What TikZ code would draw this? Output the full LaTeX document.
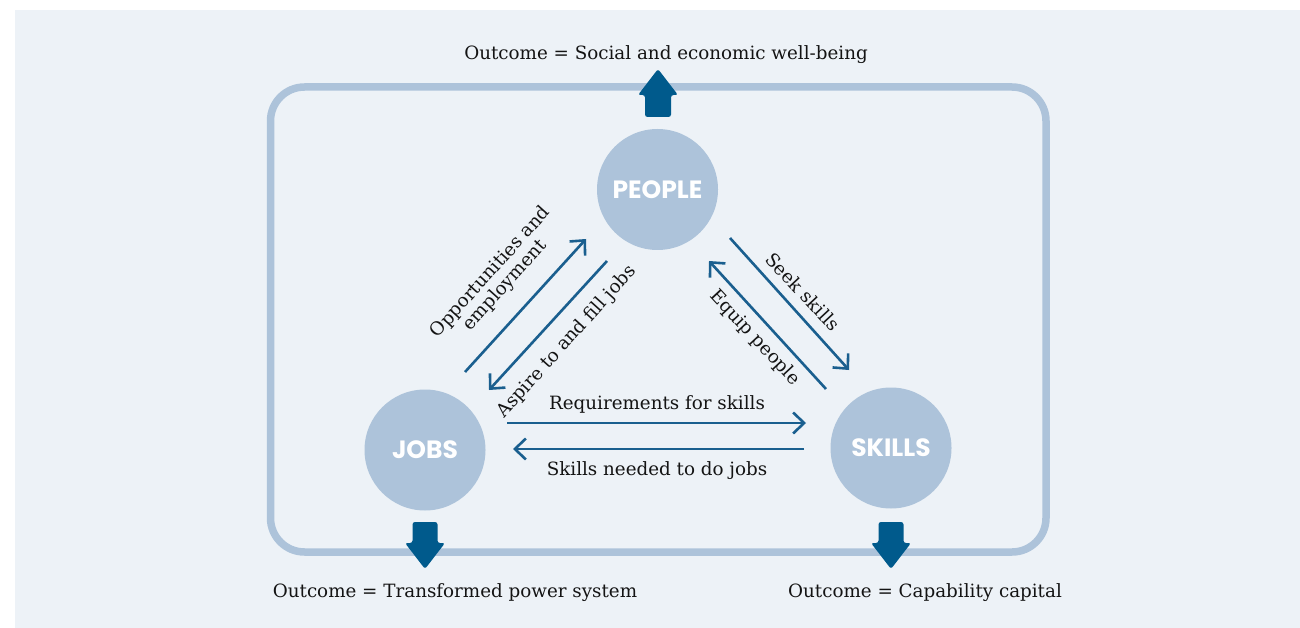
\documentclass[tikz,border=0pt]{standalone}
\usepackage{fontspec}
\setmainfont{DejaVu Serif}
\newfontfamily\circfont{Poppins}
\usetikzlibrary{arrows.meta}
\definecolor{bgc}{HTML}{EDF2F7}
\definecolor{ringc}{HTML}{ADC3DA}
\definecolor{blockc}{HTML}{005A8C}
\definecolor{flowc}{HTML}{1A5F8F}
\tikzset{
  hub/.style={circle, fill=ringc, minimum size=121pt, inner sep=0pt,
    text=white, font=\circfont\bfseries\fontsize{25}{28}\selectfont},
  flow/.style={draw=flowc, line width=2.6pt,
    -{Straight Barb[length=11pt, width=21pt, line width=2.6pt]}},
  lbl/.style={font=\fontsize{18.3}{21}\selectfont, text=black!92, inner sep=0pt},
  bigarrow/.style={fill=blockc, rounded corners=2.5pt},
  frame/.style={draw=ringc, line width=7.5pt, rounded corners=34pt}
}
\begin{document}
\begin{tikzpicture}[x=1pt, y=-1pt]
  \useasboundingbox (0,0) rectangle (1300,628);
  \fill[bgc] (15,10) rectangle (1300,628);

  % outer loop
  \draw[frame] (270.5,87) rectangle (1046,552);

  % hubs
  \node[hub] (people) at (657.5,189.5) {PEOPLE};
  \node[hub] (jobs) at (425,450) {JOBS};
  \node[hub] (skills) at (891,448) {SKILLS};

  % outcome block arrows
  \fill[bigarrow] (645,117) -- (645,95) -- (638,95) -- (658,69) -- (678,95) -- (671,95) -- (671,117) -- cycle;
  \fill[bigarrow] (412.5,522) -- (412.5,543) -- (405,543) -- (425,569) -- (445,543) -- (437.5,543) -- (437.5,522) -- cycle;
  \fill[bigarrow] (878.5,522) -- (878.5,543) -- (871,543) -- (891,569) -- (911,543) -- (903.5,543) -- (903.5,522) -- cycle;

  % outcome labels
  \node[lbl] (outTop) at (666,54.5) {Outcome = Social and economic well-being};
  \node[lbl] (outJobs) at (455,592.5) {Outcome = Transformed power system};
  \node[lbl] (outSkills) at (925,592.5) {Outcome = Capability capital};

  % connector end points
  \coordinate (oppA) at (465,372);  \coordinate (oppB) at (586,239);
  \coordinate (aspA) at (607,261);  \coordinate (aspB) at (489,390);
  \coordinate (seekA) at (730,238); \coordinate (seekB) at (849,370);
  \coordinate (equA) at (826,389);  \coordinate (equB) at (709,261);
  \coordinate (reqA) at (507,423);  \coordinate (reqB) at (806,423);
  \coordinate (needA) at (804,449); \coordinate (needB) at (513,449);

  % flows between hubs
  \draw[flow] (oppA) -- (oppB);
  \draw[flow] (aspA) -- (aspB);
  \draw[flow] (seekA) -- (seekB);
  \draw[flow] (equA) -- (equB);
  \draw[flow] (reqA) -- (reqB);
  \draw[flow] (needA) -- (needB);

  % flow labels
  \node[lbl, rotate=48, align=center, font=\fontsize{18.3}{19.5}\selectfont] (oppT) at (498,279) {Opportunities and\\employment};
  \node[lbl, rotate=48] (aspT) at (567,342) {Aspire to and fill jobs};
  \node[lbl, rotate=-47] (seekT) at (803,292) {Seek skills};
  \node[lbl, rotate=-47] (equT) at (755,338) {Equip people};
  \node[lbl] (reqT) at (657,404.5) {Requirements for skills};
  \node[lbl] (needT) at (657,471) {Skills needed to do jobs};
\end{tikzpicture}
\end{document}
